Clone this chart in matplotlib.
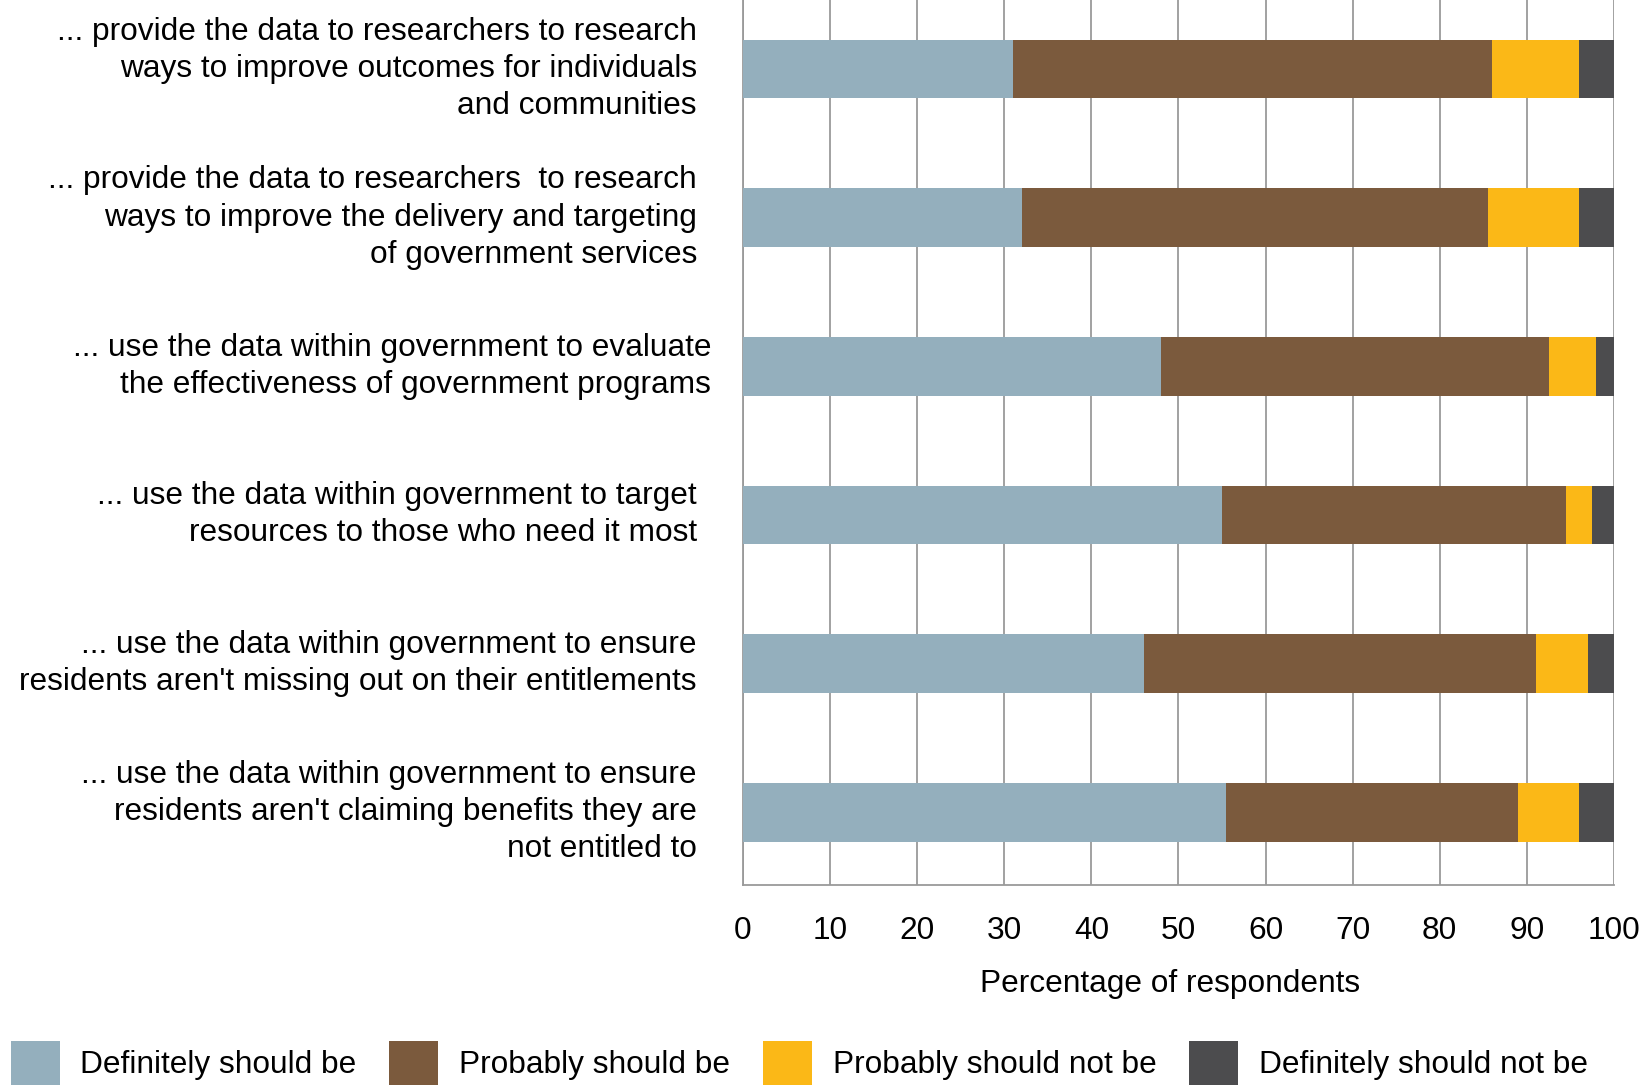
import numpy as np
import matplotlib.pyplot as plt
from matplotlib.transforms import blended_transform_factory

plt.rcParams['font.family'] = ['Liberation Sans', 'DejaVu Sans']

statements = [
    "... provide the data to researchers to research\nways to improve outcomes for individuals\nand communities",
    "... provide the data to researchers  to research\nways to improve the delivery and targeting\nof government services",
    "... use the data within government to evaluate\nthe effectiveness of government programs",
    "... use the data within government to target\nresources to those who need it most",
    "... use the data within government to ensure\nresidents aren't missing out on their entitlements",
    "... use the data within government to ensure\nresidents aren't claiming benefits they are\nnot entitled to",
]

responses = ["Definitely should be", "Probably should be",
             "Probably should not be", "Definitely should not be"]

definitely_yes = [31, 32, 48, 55, 46, 55.5]
probably_yes = [55, 53.5, 44.5, 39.5, 45, 33.5]
probably_no = [10, 10.5, 5.5, 3, 6, 7]
definitely_no = [4, 4, 2, 2.5, 3, 4]

colors = ["#94AFBD", "#7B5A3D", "#FBB817", "#4C4C4E"]
grid_color = "#9a9a9a"
fs = 22.8

fig = plt.figure(figsize=(16.43, 10.85), dpi=100)
ax = fig.add_axes([0.4522, 0.1843, 0.5301, 0.8157])

y = np.arange(len(statements))
left = np.zeros(len(statements))
handles = []
for vals, col, name in zip([definitely_yes, probably_yes, probably_no, definitely_no],
                           colors, responses):
    vals = np.array(vals)
    h = ax.barh(y, vals, left=left, height=0.395, color=col, label=name, zorder=3)
    handles.append(h)
    left += vals

ax.set_xlim(0, 100)
ax.set_ylim(5.49, -0.464)
ax.set_xticks(np.arange(0, 101, 10))
ax.set_yticks([])
ax.grid(axis="x", color=grid_color, linewidth=1.3, zorder=0)
ax.tick_params(axis="x", length=0, pad=22, labelsize=fs)
ax.set_xlabel("Percentage of respondents", fontsize=fs, labelpad=18)
ax.xaxis.set_label_coords(0.49, -0.095)

for side in ["top", "right"]:
    ax.spines[side].set_visible(False)
for side in ["left", "bottom"]:
    ax.spines[side].set_color(grid_color)
    ax.spines[side].set_linewidth(1.3)

# statement labels sit to the left of the bars, right-aligned
trans = blended_transform_factory(ax.transAxes, ax.transData)
label_x = [-0.0528, -0.0528, -0.0367, -0.0528, -0.0528, -0.0528]
for yi, text, lx in zip(y, statements, label_x):
    ax.text(lx, yi, text, transform=trans, ha="right", va="center",
            multialignment="right", fontsize=fs, linespacing=1.31)

fig.legend(handles=handles, labels=responses, loc="center left",
           bbox_to_anchor=(0.0064, 0.0203), ncol=4, frameon=False,
           fontsize=fs, handlelength=1.55, handleheight=1.75,
           handletextpad=0.66, columnspacing=1.03, borderpad=0,
           borderaxespad=0)

fig.savefig("out.png", dpi=100)
